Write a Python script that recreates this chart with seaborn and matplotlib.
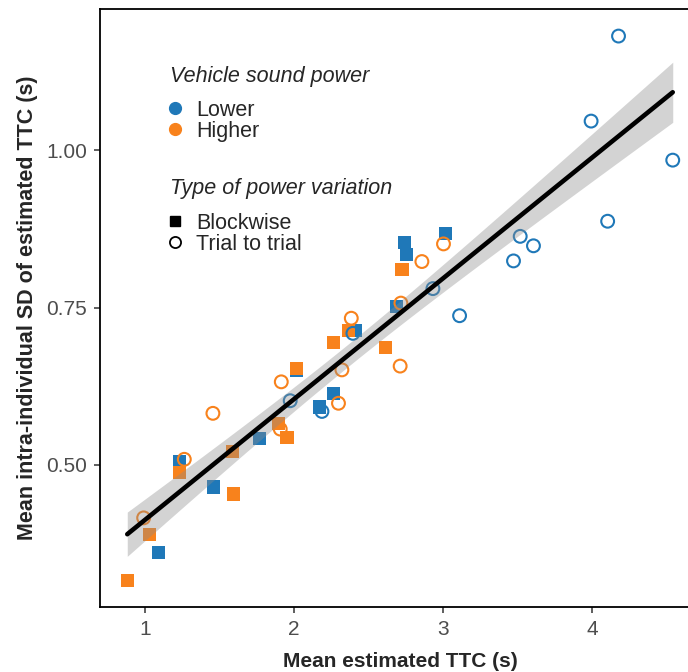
import matplotlib
matplotlib.use("Agg")
import matplotlib.pyplot as plt
import seaborn as sns
import numpy as np
import pandas as pd
from matplotlib.lines import Line2D

# ---- data ----
lower_block_x = [1.089, 1.228, 1.459, 1.765, 2.013, 2.171, 2.264, 2.409, 2.689, 2.741, 2.756, 3.018]
lower_block_y = [0.361, 0.506, 0.465, 0.542, 0.650, 0.592, 0.614, 0.713, 0.751, 0.853, 0.834, 0.868]
higher_block_x = [0.879, 1.029, 1.228, 1.593, 1.586, 1.895, 1.951, 2.013, 2.264, 2.365, 2.615, 2.723]
higher_block_y = [0.317, 0.389, 0.488, 0.454, 0.522, 0.566, 0.544, 0.653, 0.694, 0.713, 0.686, 0.811]
lower_trial_x = [1.973, 2.186, 2.394, 2.931, 3.110, 3.472, 3.517, 3.606, 3.993, 4.104, 4.177, 4.541]
lower_trial_y = [0.602, 0.585, 0.709, 0.780, 0.737, 0.824, 0.863, 0.848, 1.046, 0.887, 1.181, 0.984]
higher_trial_x = [0.989, 1.262, 1.454, 1.906, 1.913, 2.297, 2.320, 2.383, 2.711, 2.716, 2.857, 3.002]
higher_trial_y = [0.416, 0.509, 0.582, 0.557, 0.632, 0.598, 0.651, 0.733, 0.657, 0.757, 0.823, 0.851]

power_levels = ["Lower", "Higher"]
variation_levels = ["Blockwise", "Trial to trial"]
x_ticks = [1, 2, 3, 4]
y_ticks = [0.50, 0.75, 1.00]
y_tick_labels = ["0.50", "0.75", "1.00"]

frames = []
for xs, ys, pw, var in [
    (lower_block_x, lower_block_y, "Lower", "Blockwise"),
    (higher_block_x, higher_block_y, "Higher", "Blockwise"),
    (lower_trial_x, lower_trial_y, "Lower", "Trial to trial"),
    (higher_trial_x, higher_trial_y, "Higher", "Trial to trial"),
]:
    frames.append(pd.DataFrame({"x": xs, "y": ys, "power": pw, "variation": var}))
df = pd.concat(frames, ignore_index=True)

sns.set_style("white")
plt.rcParams["font.family"] = ["Liberation Sans", "DejaVu Sans"]

palette = {"Lower": "#1f78b8", "Higher": "#f8821c"}

fig = plt.figure(figsize=(6.88, 6.72), dpi=100)
ax = fig.add_axes([100 / 688, (672 - 607) / 672, 600 / 688, (607 - 9.3) / 672])

blk = df[df.variation == "Blockwise"]
sns.scatterplot(data=blk, x="x", y="y", hue="power", hue_order=power_levels,
                palette=palette, marker="s", s=90, linewidth=0, legend=False, ax=ax)
trl = df[df.variation == "Trial to trial"]
sns.scatterplot(data=trl, x="x", y="y", hue="power", hue_order=power_levels,
                palette=palette, marker="o", s=85, legend=False, ax=ax)
coll = ax.collections[-1]
fc = coll.get_facecolors()
coll.set_edgecolors(fc)
coll.set_facecolors("none")
coll.set_linewidths(1.5)

# analytic 95% confidence band of the linear fit (as in ggplot's geom_smooth(method="lm"))
xv = df["x"].to_numpy()
yv = df["y"].to_numpy()
n = len(xv)
b1, b0 = np.polyfit(xv, yv, 1)
resid = yv - (b0 + b1 * xv)
s_err = np.sqrt(np.sum(resid ** 2) / (n - 2))
xg = np.linspace(xv.min(), xv.max(), 200)
se = s_err * np.sqrt(1 / n + (xg - xv.mean()) ** 2 / np.sum((xv - xv.mean()) ** 2))
t_crit = 2.0129  # t(0.975, df=46)
yfit = b0 + b1 * xg
ax.fill_between(xg, yfit - t_crit * se, yfit + t_crit * se, color="#8c8c8c",
                alpha=0.38, linewidth=0, zorder=1.5)

sns.regplot(data=df, x="x", y="y", scatter=False, color="black", ci=None,
            line_kws={"lw": 3.3, "zorder": 3}, ax=ax)

ax.set_xlim(0.696, 4.724)
ax.set_ylim(0.2745, 1.2235)
ax.set_xticks(x_ticks)
ax.set_xticklabels([str(t) for t in x_ticks])
ax.set_yticks(y_ticks)
ax.set_yticklabels(y_tick_labels)
ax.tick_params(axis="both", direction="out", length=4.5, width=1.1, color="#333333",
               labelcolor="#4d4d4d", labelsize=15, pad=5, bottom=True, left=True)
for sp in ax.spines.values():
    sp.set_visible(True)
    sp.set_color("black")
    sp.set_linewidth(1.3)

ax.set_xlabel("Mean estimated TTC (s)", fontsize=15, fontweight="bold", labelpad=9)
ax.set_ylabel("Mean intra-individual SD of estimated TTC (s)", fontsize=15.5,
              fontweight="bold", labelpad=5.5)

leg_fs = 15.5
fig.text(170 / 688, 1 - 82 / 672, "Vehicle sound power", fontsize=leg_fs, style="italic",
         ha="left", va="baseline")
fig.text(170 / 688, 1 - 194 / 672, "Type of power variation", fontsize=leg_fs, style="italic",
         ha="left", va="baseline")

h1 = [Line2D([], [], marker="o", linestyle="", markersize=8.5, markerfacecolor=palette[p],
             markeredgecolor=palette[p]) for p in power_levels]
leg1 = ax.legend(h1, power_levels, loc="upper left",
                 bbox_to_anchor=(165 / 688, 1 - 100 / 672), bbox_transform=fig.transFigure,
                 frameon=False, fontsize=leg_fs, handlelength=0.97, handletextpad=0.48,
                 labelspacing=0.0, borderpad=0, borderaxespad=0)
ax.add_artist(leg1)
h2 = [Line2D([], [], marker="s", linestyle="", markersize=7.5, markerfacecolor="black",
             markeredgecolor="black"),
      Line2D([], [], marker="o", linestyle="", markersize=8, markerfacecolor="none",
             markeredgecolor="black", markeredgewidth=1.3)]
leg2 = ax.legend(h2, variation_levels, loc="upper left",
                 bbox_to_anchor=(165 / 688, 1 - 213 / 672), bbox_transform=fig.transFigure,
                 frameon=False, fontsize=leg_fs, handlelength=0.97, handletextpad=0.48,
                 labelspacing=0.0, borderpad=0, borderaxespad=0)

fig.savefig("out.png", dpi=100)
